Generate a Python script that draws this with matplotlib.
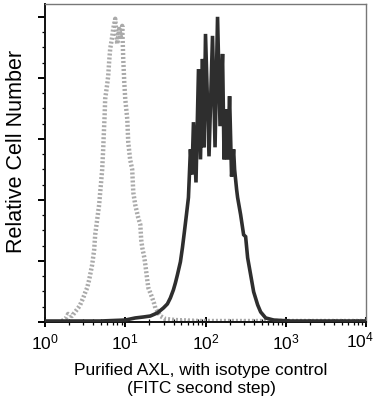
import matplotlib
matplotlib.use("Agg")
import matplotlib.pyplot as plt
from matplotlib.ticker import LogLocator, MultipleLocator, NullFormatter

plt.rcParams['font.family'] = ['Liberation Sans', 'DejaVu Sans']
plt.rcParams['mathtext.fontset'] = 'custom'
plt.rcParams['mathtext.rm'] = 'Liberation Sans'
plt.rcParams['mathtext.it'] = 'Liberation Sans'

# Isotype control (gray) histogram: fluorescence vs count
iso_x = [1.63, 1.83, 1.94, 2.17, 2.37, 2.59, 2.74, 2.99, 3.16, 3.35, 3.55, 3.76, 3.87,
         4.10, 4.22, 4.47, 4.73, 4.87, 5.01, 5.16, 5.31, 5.39, 5.54, 5.62, 5.96, 6.13,
         6.31, 6.49, 6.87, 7.08, 7.50, 7.94, 8.41, 8.91, 9.17, 9.44, 9.72, 10.0, 10.6,
         10.9, 11.5, 12.2, 12.6, 13.3, 14.5, 15.4, 15.8, 16.3, 17.3, 17.8, 18.8, 19.4,
         20.5, 21.7, 23.0, 23.7, 25.9, 27.4, 31.6, 42.2, 86.6, 10000]
iso_y = [0.8, 3.3, 6.6, 4.9, 8.2, 11.5, 14.0, 19.7, 23.9, 28.0, 34.5, 42.8, 46.9,
         59.2, 71.5, 83.9, 96.2, 106.1, 115.1, 125.0, 141.5, 152.1, 170.2, 182.6, 194.9, 201.5,
         213.8, 223.7, 233.6, 240.1, 248.4, 227.8, 240.1, 231.9, 242.6, 215.5, 196.6, 182.6, 166.1,
         147.2, 133.2, 125.0, 106.1, 96.2, 85.5, 79.8, 67.4, 60.9, 52.6, 46.9, 34.5, 28.0,
         23.9, 19.7, 14.8, 11.5, 7.4, 4.9, 2.5, 1.6, 0.8, 0.8]

# Purified AXL (black) histogram
axl_x = [1.0, 1.54, 2.74, 4.87, 10.0, 13.3, 16.8, 20.5, 25.1, 29.9, 33.5, 36.5, 39.8,
         42.2, 44.7, 48.7, 51.6, 54.6, 57.9, 61.3, 64.9, 67.8, 70.8, 76.1, 81.8, 86.6,
         91.7, 95.8, 100.0, 110.6, 122.3, 131.5, 141.3, 151.8, 163.1, 170.3, 177.8, 188.4,
         199.5, 211.3, 223.9, 230.4, 244.1, 251.2, 273.8, 298.5, 316.2, 335.0, 365.2, 398.1,
         446.7, 486.9, 562.3, 707.9, 1155, 2738, 9500]
axl_y = [0.8, 0.8, 0.8, 0.8, 1.6, 3.3, 4.1, 4.9, 7.4, 11.5, 14.8, 19.7, 26.3,
         32.1, 38.7, 49.3, 60.9, 74.0, 88.0, 102.0, 141.5, 120.9, 163.7, 114.3, 207.2, 133.2,
         215.5, 143.1, 236.0, 135.7, 234.4, 143.1, 250.0, 160.4, 219.6, 133.2, 174.3, 133.2,
         185.0, 119.2, 141.5, 125.0, 108.6, 102.0, 88.0, 71.5, 69.9, 52.6, 38.7, 24.7,
         14.0, 8.2, 3.3, 1.6, 0.8, 0.8, 0.8]

xticks = [1, 10, 100, 1000, 10000]
xticklabels = ['$10^{0}$', '$10^{1}$', '$10^{2}$', '$10^{3}$', '$10^{4}$']

fig = plt.figure(figsize=(3.76, 4.00), dpi=100)
ax = fig.add_axes([45/376, 78/400, 321/376, 318/400])

ax.plot(iso_x, iso_y, color='#aaaaaa', lw=3.2, ls=(0, (0.45, 0.45)), zorder=2)
ax.plot(axl_x, axl_y, color='#2e2e2e', lw=2.6, zorder=3, solid_joinstyle='miter')

ax.set_xscale('log')
ax.set_xlim(1, 10000)
ax.set_ylim(0, 260.5)
ax.set_xticks(xticks)
ax.set_xticklabels(xticklabels[:-1] + [''], fontsize=12.5)
# last tick label placed slightly inward, as in the reference
ax.annotate(xticklabels[-1], xy=(xticks[-1], 0), xycoords=('data', 'axes fraction'),
            xytext=(-4.5, -6.3), textcoords='offset points', ha='center', va='top',
            fontsize=12.5)
ax.xaxis.set_minor_locator(LogLocator(base=10, subs=range(2, 10)))
ax.xaxis.set_minor_formatter(NullFormatter())
ax.yaxis.set_major_locator(MultipleLocator(50))
ax.yaxis.set_minor_locator(MultipleLocator(12.5))
ax.set_yticklabels([])

ax.tick_params(axis='x', which='major', direction='inout', length=7, width=1.4, pad=4)
ax.tick_params(axis='x', which='minor', direction='inout', length=4, width=0.9)
ax.tick_params(axis='y', which='major', direction='out', length=5, width=1.4)
ax.tick_params(axis='y', which='minor', direction='out', length=2.5, width=0.9)

for s in ['left', 'bottom']:
    ax.spines[s].set_linewidth(1.4)
    ax.spines[s].set_color('#111111')
for s in ['top', 'right']:
    ax.spines[s].set_linewidth(1.0)
    ax.spines[s].set_color('#777777')
    ax.spines[s].set_linestyle((0, (2, 1)))

fig.text(17/376, 1 - 151/400, 'Relative Cell Number', rotation=90, ha='center',
         va='center', fontsize=15.5)
fig.text(201/376, 1 - 370/400, 'Purified AXL, with isotype control', ha='center',
         va='center', fontsize=12.5)
fig.text(201/376, 1 - 389/400, '(FITC second step)', ha='center',
         va='center', fontsize=12.5)

fig.savefig('out.png', dpi=100)
